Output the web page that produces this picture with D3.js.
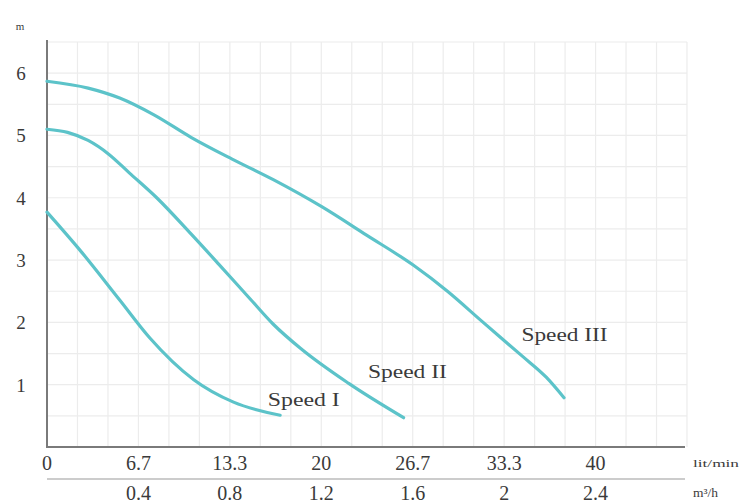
<!DOCTYPE html>
<html>
<head>
<meta charset="utf-8">
<script src="https://cdn.jsdelivr.net/npm/d3@7"></script>
<style>
  html, body { margin: 0; padding: 0; background: #fff; }
  svg { display: block; }
  text { font-family: "Liberation Serif", "DejaVu Serif", serif; fill: #3a3a3a; }
</style>
</head>
<body>
<svg id="chart" width="745" height="504"></svg>
<script>
// ---- data (flow in lit/min, head in m) ----
const flowTickValues = [0, 20/3, 40/3, 20, 80/3, 100/3, 40];
const flowTickLabels = ["0", "6.7", "13.3", "20", "26.7", "33.3", "40"];
const m3hTickValues = [0.4, 0.8, 1.2, 1.6, 2, 2.4];
const m3hTickLabels = ["0.4", "0.8", "1.2", "1.6", "2", "2.4"];
const headTickValues = [1, 2, 3, 4, 5, 6];
const seriesNames = ["Speed I", "Speed II", "Speed III"];
const speed1 = [[0,3.77],[2.4,3.16],[5.3,2.36],[7.5,1.75],[10.7,1.08],[13.6,0.72],[17.0,0.51]];
const speed2 = [[0,5.1],[1.5,5.05],[3,4.92],[4.5,4.7],[6,4.4],[8,4.0],[10.5,3.42],[12.5,2.94],[14.8,2.38],[16.5,1.97],[18.5,1.58],[22,1.02],[26.0,0.47]];
const speed3 = [[0,5.87],[3,5.76],[5.3,5.6],[7.8,5.33],[10.5,4.97],[13.5,4.62],[16.5,4.29],[20,3.86],[23.3,3.4],[26.7,2.92],[29.2,2.5],[31.7,2.02],[34.7,1.45],[36.4,1.12],[37.7,0.79]];
const seriesData = [speed1, speed2, speed3];
const labelAnchors = [[16.1, 0.66], [23.4, 1.1], [34.6, 1.7]];
const labelWidths = [72, 79, 86];

// ---- layout ----
const svg = d3.select("#chart");
const mLeft = 47, mRight = 687, mBottom = 447, mTop = 42;
const x = d3.scaleLinear().domain([0, 140/3]).range([mLeft, mRight]);
const xm = d3.scaleLinear().domain([0, 2.8]).range([mLeft, mRight]);
const y = d3.scaleLinear().domain([0, 6.5]).range([mBottom, mTop]);

// grid
const g = svg.append("g");
const xGrid = d3.range(1, 22).map(i => i * 20 / 9);
const yGrid = d3.range(1, 14).map(i => i * 0.5);
g.selectAll("line.vx").data(xGrid).enter().append("line")
  .attr("x1", d => x(d)).attr("x2", d => x(d))
  .attr("y1", y(6.5)).attr("y2", mBottom)
  .attr("stroke", "#ececec").attr("stroke-width", 1.2);
g.selectAll("line.hy").data(yGrid).enter().append("line")
  .attr("x1", mLeft).attr("x2", mRight)
  .attr("y1", d => y(d)).attr("y2", d => y(d))
  .attr("stroke", "#ececec").attr("stroke-width", 1.2);

// axes lines
svg.append("line").attr("x1", mLeft).attr("x2", mLeft).attr("y1", y(6.5) - 2).attr("y2", mBottom)
  .attr("stroke", "#7a7a7a").attr("stroke-width", 2);
svg.append("line").attr("x1", mLeft - 1).attr("x2", mRight - 2).attr("y1", mBottom).attr("y2", mBottom)
  .attr("stroke", "#7a7a7a").attr("stroke-width", 2.2);
svg.append("line").attr("x1", mLeft).attr("x2", mRight - 2).attr("y1", 479).attr("y2", 479)
  .attr("stroke", "#9a9a9a").attr("stroke-width", 1.2);

// y tick labels
svg.selectAll("text.yt").data(headTickValues).enter().append("text")
  .attr("x", 21).attr("y", d => y(d) + 7)
  .attr("font-size", 19).attr("text-anchor", "middle")
  .text(d => d);
svg.append("text").attr("x", 20).attr("y", 30).attr("font-size", 11)
  .attr("text-anchor", "middle").attr("fill", "#666").text("m");

// x tick labels (lit/min)
svg.selectAll("text.xt").data(flowTickValues).enter().append("text")
  .attr("x", d => x(d)).attr("y", 470)
  .attr("font-size", 20).attr("text-anchor", "middle")
  .text((d, i) => flowTickLabels[i]);
// x tick labels (m3/h)
svg.selectAll("text.mt").data(m3hTickValues).enter().append("text")
  .attr("x", d => xm(d)).attr("y", 500)
  .attr("font-size", 20).attr("text-anchor", "middle")
  .text((d, i) => m3hTickLabels[i]);
svg.append("text").attr("x", 693).attr("y", 467).attr("font-size", 11)
  .attr("textLength", 46).attr("lengthAdjust", "spacingAndGlyphs").text("lit/min");
svg.append("text").attr("x", 693).attr("y", 497).attr("font-size", 12)
  .attr("textLength", 25).attr("lengthAdjust", "spacingAndGlyphs").text("m³/h");

// curves
const line = d3.line().x(d => x(d[0])).y(d => y(d[1])).curve(d3.curveMonotoneX);
svg.selectAll("path.curve").data(seriesData).enter().append("path")
  .attr("d", line).attr("fill", "none")
  .attr("stroke", "#5cc3c9").attr("stroke-width", 3.2).attr("stroke-linecap", "round");

// series labels
svg.selectAll("text.sl").data(seriesNames).enter().append("text")
  .attr("x", (d, i) => x(labelAnchors[i][0])).attr("y", (d, i) => y(labelAnchors[i][1]))
  .attr("font-size", 19)
  .attr("textLength", (d, i) => labelWidths[i]).attr("lengthAdjust", "spacingAndGlyphs")
  .text(d => d);
</script>
</body>
</html>
